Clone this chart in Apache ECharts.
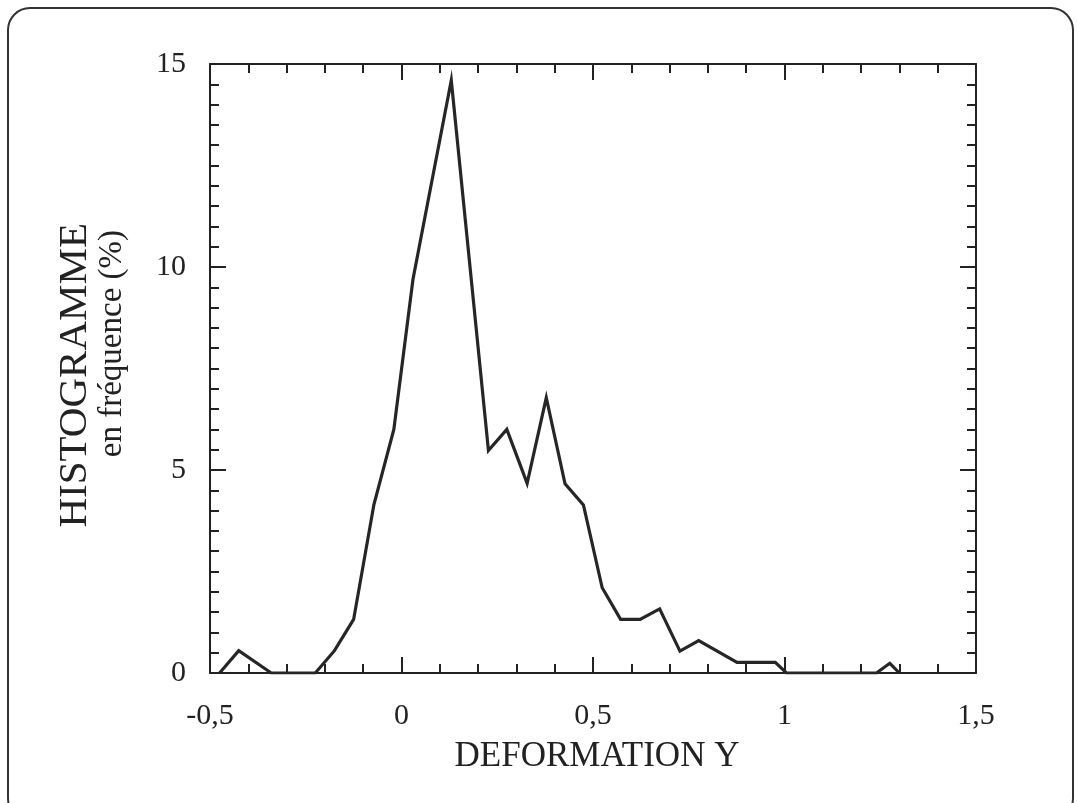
<!DOCTYPE html>
<html>
<head>
<meta charset="utf-8">
<script src="https://cdn.jsdelivr.net/npm/echarts@6/dist/echarts.min.js"></script>
<style>
  html, body { margin: 0; padding: 0; background: #fff; }
  #chart { width: 1077px; height: 803px; }
</style>
</head>
<body>
<div id="chart"></div>
<script>
// Deformation Y values (bin positions) and frequency histogram (%)
const deformationY = [
  -0.475, -0.425, -0.34, -0.225, -0.175, -0.125, -0.072, -0.02, 0.03, 0.13,
  0.227, 0.275, 0.328, 0.378, 0.427, 0.475, 0.524, 0.572, 0.623, 0.674,
  0.727, 0.776, 0.876, 0.976, 1.005, 1.24, 1.275, 1.30
];
const frequencyPct = [
  0, 0.55, 0, 0, 0.55, 1.32, 4.15, 6.0, 9.7, 14.6,
  5.48, 6.0, 4.67, 6.78, 4.66, 4.14, 2.1, 1.32, 1.32, 1.58,
  0.54, 0.8, 0.26, 0.26, 0, 0, 0.24, 0
];
const xTicks = { min: -0.5, max: 1.5, step: 0.5 };
const yTicks = { min: 0, max: 15, step: 5 };
const xTitle = 'DEFORMATION Y';
const yTitleMain = 'HISTOGRAMME';
const yTitleSub = 'en fréquence (%)';

const FONT = "'Liberation Serif', 'DejaVu Serif', serif";
const INK = '#222';

const commaDecimal = v => String(Math.round(v * 100) / 100).replace('.', ',');

function axisCommon(showLabels, margin, minorSplit) {
  return {
    axisLine: { show: true, onZero: false, lineStyle: { color: INK, width: 2 } },
    axisTick: { show: true, inside: true, length: 16, lineStyle: { color: INK, width: 2 } },
    minorTick: { show: true, splitNumber: minorSplit, length: 9, lineStyle: { color: INK, width: 2 } },
    splitLine: { show: false },
    minorSplitLine: { show: false },
    axisLabel: {
      show: showLabels, margin: margin, color: INK,
      fontFamily: FONT, fontSize: 30, formatter: commaDecimal
    }
  };
}

const chart = echarts.init(document.getElementById('chart'));
chart.setOption({
  animation: false,
  backgroundColor: '#fff',
  grid: { left: 210, right: 101, top: 64, bottom: 130, containLabel: false },
  xAxis: [
    Object.assign({ type: 'value', position: 'bottom', min: xTicks.min, max: xTicks.max, interval: xTicks.step },
      axisCommon(true, 28, 5)),
    Object.assign({ type: 'value', position: 'top', min: xTicks.min, max: xTicks.max, interval: xTicks.step },
      axisCommon(false, 0, 5))
  ],
  yAxis: [
    Object.assign({ type: 'value', position: 'left', min: yTicks.min, max: yTicks.max, interval: yTicks.step },
      axisCommon(true, 24, 10)),
    Object.assign({ type: 'value', position: 'right', min: yTicks.min, max: yTicks.max, interval: yTicks.step },
      axisCommon(false, 0, 10))
  ],
  series: [{
    type: 'line',
    xAxisIndex: 0,
    yAxisIndex: 0,
    data: deformationY.map((x, i) => [x, frequencyPct[i]]),
    symbol: 'none',
    clip: true,
    lineStyle: { color: '#262626', width: 3.2, join: 'miter' }
  }],
  graphic: [
    {
      type: 'rect', z: -1, silent: true,
      shape: { x: 8, y: 8, width: 1065, height: 812, r: 22 },
      style: { fill: 'none', stroke: '#333', lineWidth: 2 }
    },
    {
      type: 'text', x: 597, y: 757,
      style: { text: xTitle, font: '35px ' + FONT, fill: INK, textAlign: 'center', textVerticalAlign: 'middle' }
    },
    {
      type: 'text', x: 75, y: 223, rotation: Math.PI / 2,
      style: { text: yTitleMain, font: '41px ' + FONT, fill: INK, textAlign: 'right', textVerticalAlign: 'middle' }
    },
    {
      type: 'text', x: 112, y: 230, rotation: Math.PI / 2,
      style: { text: yTitleSub, font: '33px ' + FONT, fill: INK, textAlign: 'right', textVerticalAlign: 'middle' }
    }
  ]
});
</script>
</body>
</html>
